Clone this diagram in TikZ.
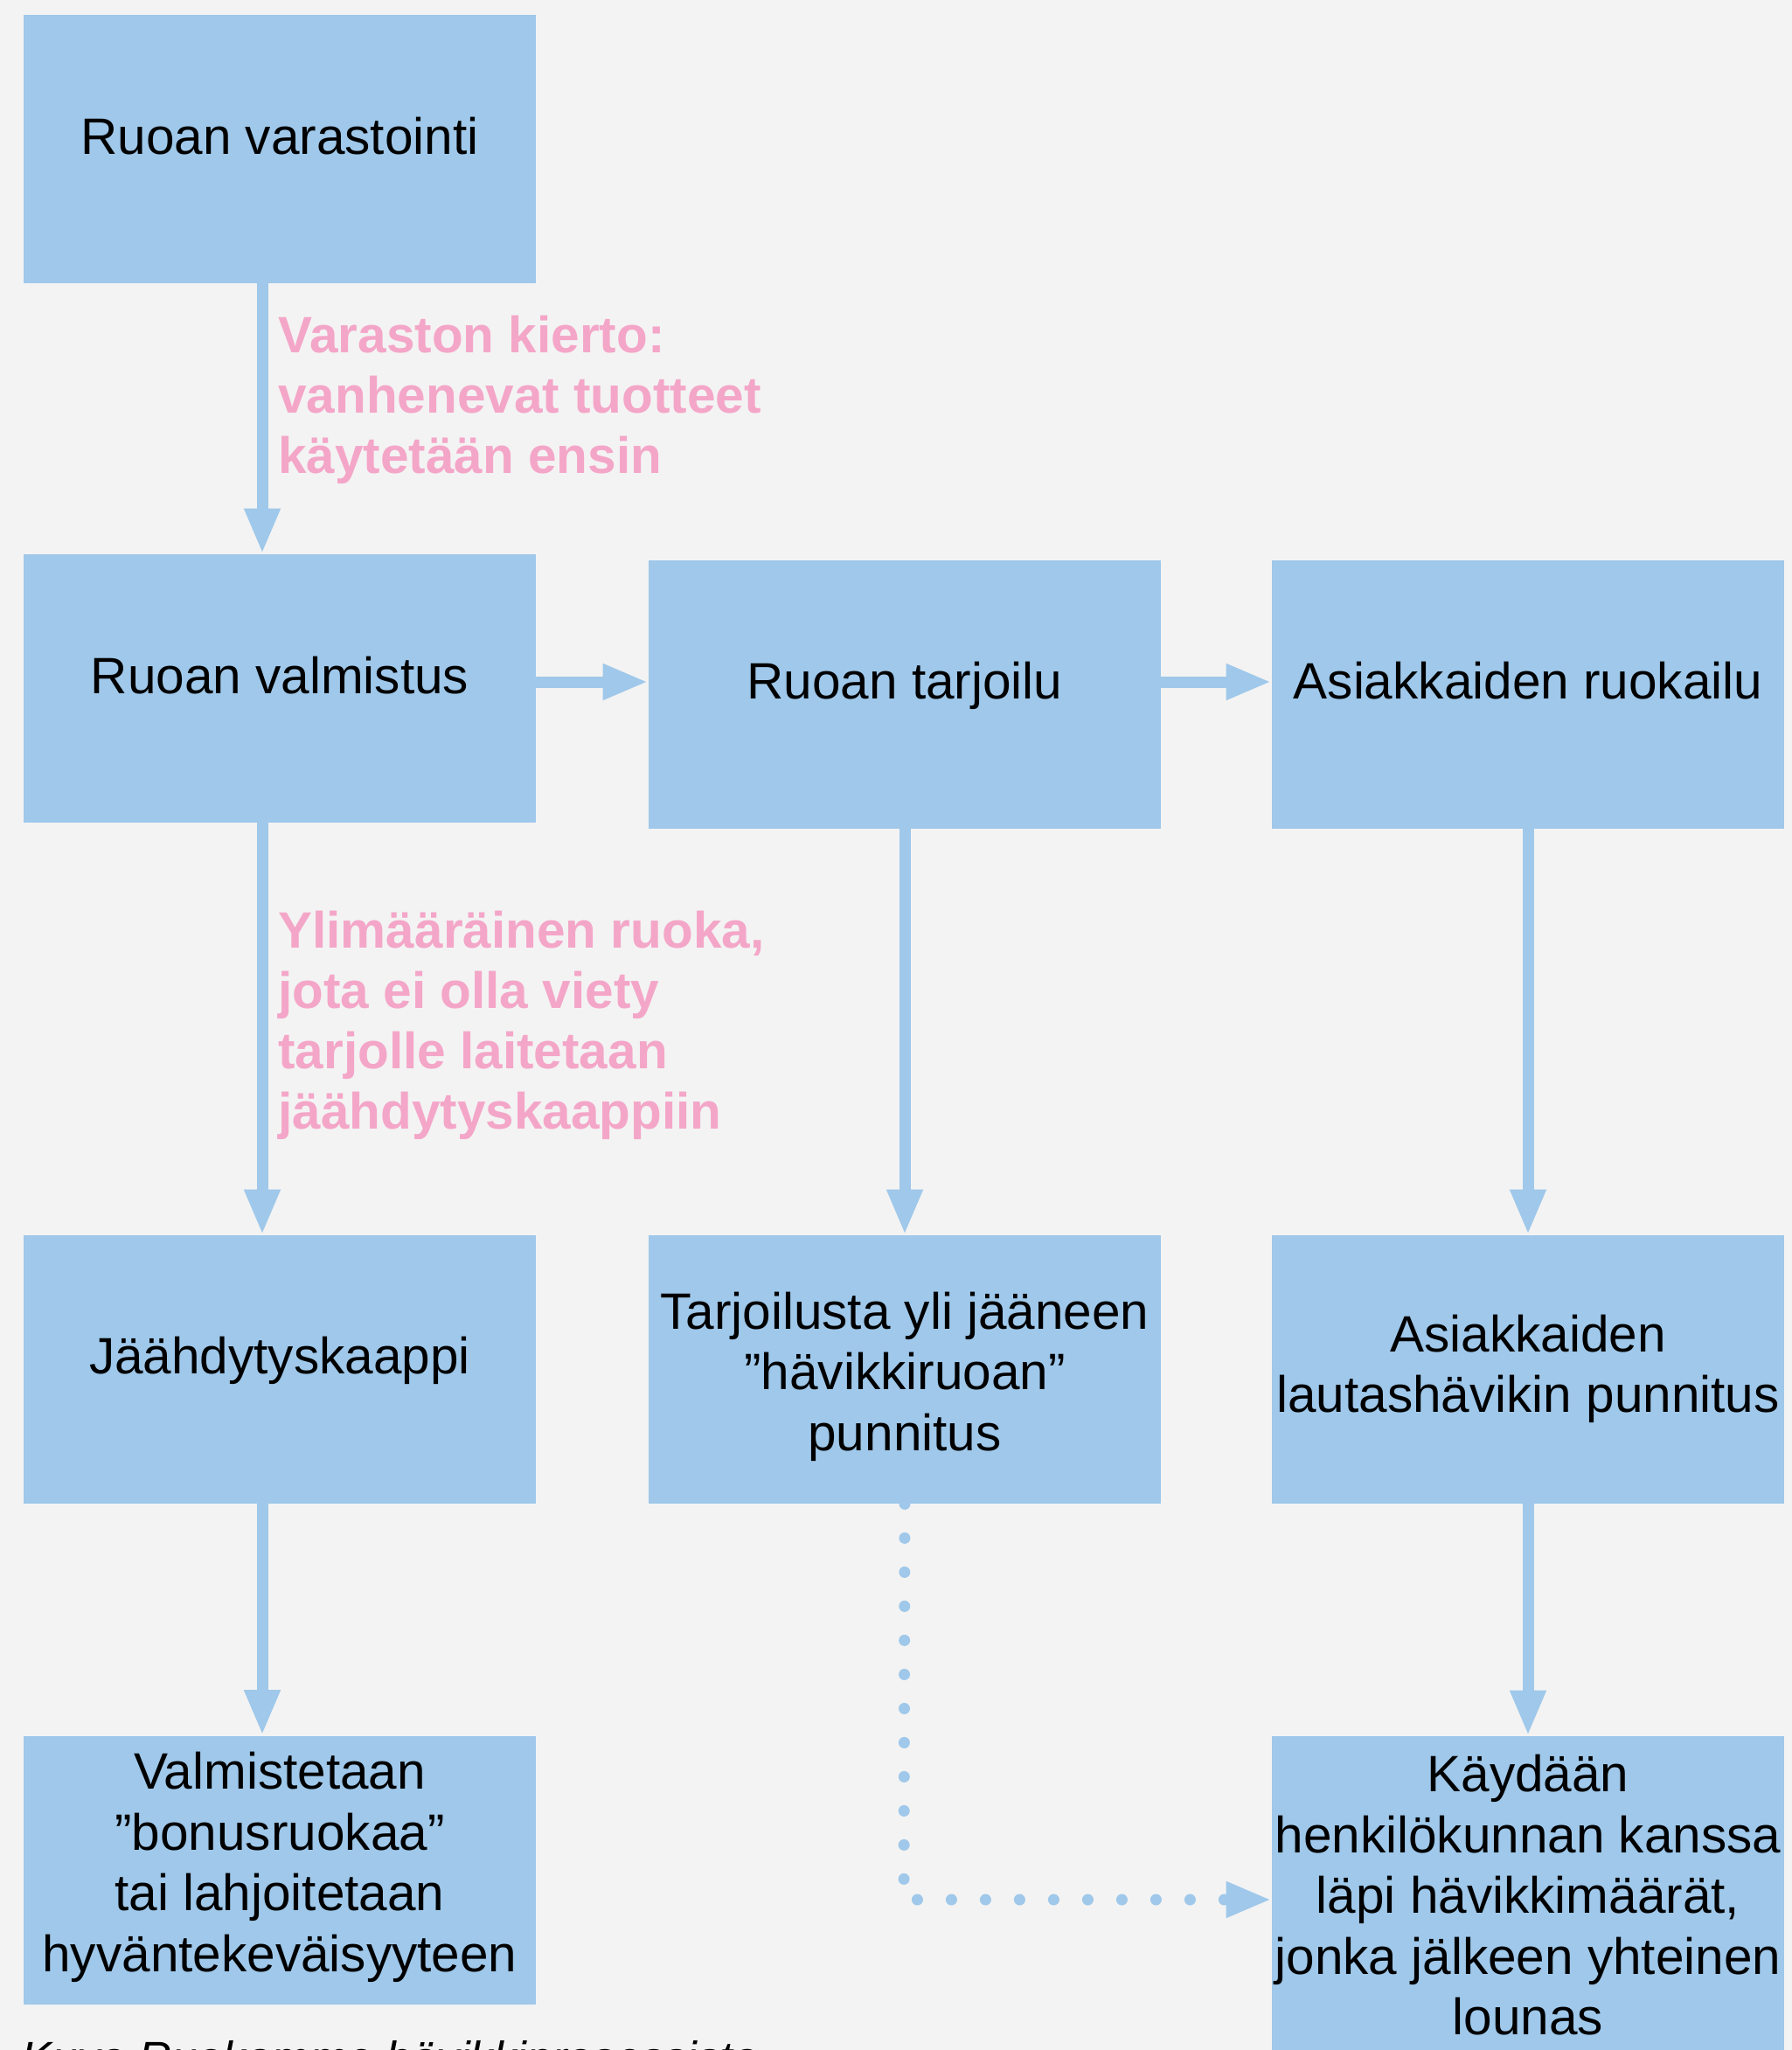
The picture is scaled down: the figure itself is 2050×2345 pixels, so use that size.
\documentclass[tikz,border=0pt]{standalone}
\usepackage{fontspec}
\setmainfont{Liberation Sans}
\usetikzlibrary{arrows.meta}
\definecolor{bg}{HTML}{F3F3F3}
\definecolor{boxblue}{HTML}{9FC8EA}
\definecolor{labelpink}{HTML}{F4A6C8}
\begin{document}
\begin{tikzpicture}[x=0.5pt,y=-0.5pt,
  box/.style={rectangle, fill=boxblue, draw=none, minimum width=293pt, minimum height=153.5pt, inner sep=0pt},
  txt/.style={align=center, font=\fontsize{29.25}{34.75}\selectfont, inner sep=0pt, execute at begin node=\strut, execute at end node=\strut},
  note/.style={align=left, anchor=north west, text=labelpink, font=\bfseries\fontsize{29.25}{34.5}\selectfont, inner sep=0pt, execute at begin node=\strut},
  capt/.style={anchor=base west, inner sep=0pt, font=\itshape\fontsize{26.25}{31.5}\selectfont},
  flow/.style={draw=boxblue, line width=6.5pt, -{Triangle[length=26pt,width=19pt]}},
  dotflow/.style={flow, line cap=round, dash pattern=on 0pt off 19.5pt}
]
\useasboundingbox (0,0) rectangle (2050,2345);
\fill[bg] (0,0) rectangle (2050,2345);

% boxes
\node[box] (A) at (320,170.5) {};
\node[box] (B) at (320,787.5) {};
\node[box] (C) at (1035,794.5) {};
\node[box] (D) at (1748,794.5) {};
\node[box] (E) at (320,1566.5) {};
\node[box] (F) at (1035,1566.5) {};
\node[box] (G) at (1748,1566.5) {};
\node[box] (H) at (320,2139) {};
\node[box, minimum height=182pt] (I) at (1748,2168) {};

% texts
\node[txt] (At) at (320,162.5) {Ruoan varastointi};
\node[txt] (Bt) at (320,780) {Ruoan valmistus};
\node[txt] (Ct) at (1035,786) {Ruoan tarjoilu};
\node[txt] (Dt) at (1748,786) {Asiakkaiden ruokailu};
\node[txt] (Et) at (320,1558) {Jäähdytyskaappi};
\node[txt] (Ft) at (1035,1579) {Tarjoilusta yli jääneen\\”hävikkiruoan”\\punnitus};
\node[txt] (Gt) at (1748,1570) {Asiakkaiden\\lautashävikin punnitus};
\node[txt] (Ht) at (320,2140) {Valmistetaan\\”bonusruokaa”\\tai lahjoitetaan\\hyväntekeväisyyteen};
\node[txt] (It) at (1748,2178) {Käydään\\henkilökunnan kanssa\\läpi hävikkimäärät,\\jonka jälkeen yhteinen\\lounas};

% pink notes
\node[note] (L1) at (318,361) {Varaston kierto:\\vanhenevat tuotteet\\käytetään ensin};
\node[note] (L2) at (318,1042) {Ylimääräinen ruoka,\\jota ei olla viety\\tarjolle laitetaan\\jäähdytyskaappiin};

% caption (cut off by the page edge, as in the reference)
\node[capt] (cap) at (24,2372.6) {Kuva Ruokamme hävikkiprosessista};

% connectors
\draw[flow] ([xshift=-10pt]A.south) -- ([xshift=-10pt]B.north);
\draw[flow] ([yshift=3.75pt]B.east) -- ([yshift=7.25pt]C.west);
\draw[flow] ([yshift=7.25pt]C.east) -- ([yshift=7.25pt]D.west);
\draw[flow] ([xshift=-10pt]B.south) -- ([xshift=-10pt]E.north);
\draw[flow] (C.south) -- (F.north);
\draw[flow] (D.south) -- (G.north);
\draw[flow] ([xshift=-10pt]E.south) -- ([xshift=-10pt]H.north);
\draw[flow] (G.south) -- (I.north);
\coordinate (bend) at (1034,2173);
\draw[dotflow] (F.south) -- (bend) -- (I.west |- bend);
\end{tikzpicture}
\end{document}
